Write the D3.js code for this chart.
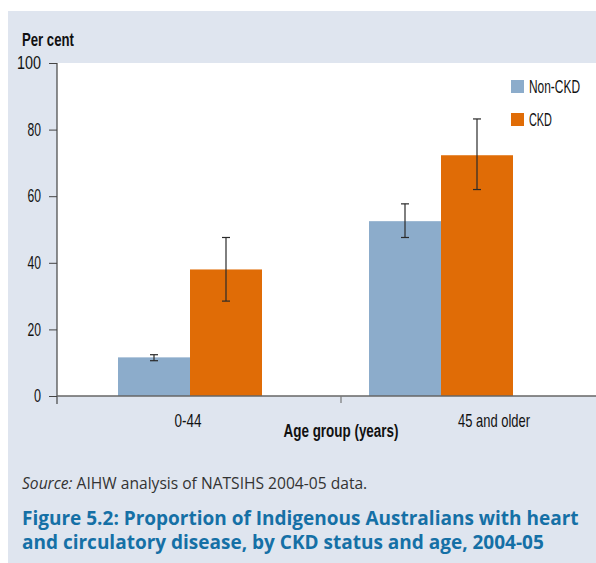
<!DOCTYPE html>
<html><head><meta charset="utf-8">
<script src="https://cdn.jsdelivr.net/npm/d3@7"></script>
<style>
html,body{margin:0;padding:0;background:#fff;}
svg{display:block;}
.cond{font-family:"Liberation Sans",Arial,sans-serif;}
</style></head>
<body>
<script>
const categories = ["0-44", "45 and older"];
const seriesNames = ["Non-CKD", "CKD"];
const nonCKD = [11.6, 52.5];
const nonCKDLow = [10.6, 47.6];
const nonCKDHigh = [12.4, 57.7];
const ckd = [38.0, 72.3];
const ckdLow = [28.5, 62.0];
const ckdHigh = [47.6, 83.2];
const yTicks = [0, 20, 40, 60, 80, 100];
const colors = ["#8caccb", "#e06c06"];

// widths that emulate the condensed typeface of the original
const condWidth = {"0": 7, "20": 13.5, "40": 13.5, "60": 13.5, "80": 13.5, "100": 24,
  "0-44": 27, "45 and older": 72, "Non-CKD": 51, "CKD": 23, "Age group (years)": 115, "Per cent": 52};
// squeeze a text horizontally around its anchor point
function condense(sel) {
  sel.each(function() {
    const el = d3.select(this);
    const t = el.text();
    if (condWidth[t] === undefined) return;
    const nat = this.getComputedTextLength();
    const sx = condWidth[t] / nat;
    const x = +el.attr("x") || 0, yy = +el.attr("y") || 0;
    const dy = el.attr("dy");
    el.attr("x", 0).attr("y", 0)
      .attr("transform", `translate(${x},${yy}) scale(${sx},1)`);
    if (dy) el.attr("dy", dy);
  });
}
const FS = 17.5;

const W = 596, H = 563;
const svg = d3.select("body").append("svg").attr("width", W).attr("height", H);

svg.append("rect").attr("x", 8).attr("y", 11).attr("width", W - 8).attr("height", H - 11).attr("fill", "#dfe5ef");

const plot = {left: 57, right: 596, top: 63, bottom: 396};
svg.append("rect").attr("x", plot.left).attr("y", plot.top)
  .attr("width", plot.right - plot.left).attr("height", plot.bottom - plot.top).attr("fill", "#fff");

const y = d3.scaleLinear().domain([0, 100]).range([plot.bottom, plot.top]);
const xBars = d3.scaleBand().domain(categories).range([64.5, 566.5]);
const xLabels = d3.scaleBand().domain(categories).range([35, 647]);
const groupW = 144;
const xSub = d3.scaleBand().domain(seriesNames).range([0, groupW]);

const data = categories.map((c, i) => ({
  cat: c,
  vals: [
    {s: seriesNames[0], v: nonCKD[i], lo: nonCKDLow[i], hi: nonCKDHigh[i], col: colors[0]},
    {s: seriesNames[1], v: ckd[i], lo: ckdLow[i], hi: ckdHigh[i], col: colors[1]}
  ]
}));

const g = svg.selectAll("g.grp").data(data).join("g").attr("class", "grp")
  .attr("transform", d => `translate(${xBars(d.cat) + xBars.bandwidth() / 2 - groupW / 2},0)`);

g.selectAll("rect").data(d => d.vals).join("rect")
  .attr("x", d => xSub(d.s)).attr("width", xSub.bandwidth())
  .attr("y", d => y(d.v)).attr("height", d => y(0) - y(d.v))
  .attr("fill", d => d.col);

const eb = g.selectAll("g.eb").data(d => d.vals).join("g").attr("class", "eb")
  .attr("transform", d => `translate(${xSub(d.s) + xSub.bandwidth() / 2},0)`)
  .attr("stroke", "#2a2a2a").attr("stroke-width", 1.2);
eb.append("line").attr("x1", 0).attr("x2", 0).attr("y1", d => y(d.hi)).attr("y2", d => y(d.lo));
eb.append("line").attr("x1", -4).attr("x2", 4).attr("y1", d => y(d.hi)).attr("y2", d => y(d.hi));
eb.append("line").attr("x1", -4).attr("x2", 4).attr("y1", d => y(d.lo)).attr("y2", d => y(d.lo));

// Y axis
const yAxis = d3.axisLeft(y).tickValues(yTicks).tickSize(8).tickPadding(8);
const ya = svg.append("g").attr("transform", `translate(${plot.left},0)`).call(yAxis);
ya.select(".domain").remove();
ya.selectAll(".tick line").attr("stroke", "#444");
ya.selectAll("text").attr("class", "cond").attr("font-size", FS).attr("fill", "#111").call(condense);
ya.append("line").attr("x1", 0).attr("x2", 0).attr("y1", plot.top).attr("y2", plot.bottom + 8)
  .attr("stroke", "#444").attr("stroke-width", 1.2);

// X axis
svg.append("line").attr("x1", plot.left).attr("x2", plot.right).attr("y1", plot.bottom).attr("y2", plot.bottom)
  .attr("stroke", "#666").attr("stroke-width", 1.5);
const boundary = xLabels(categories[1]);
svg.append("line").attr("x1", boundary).attr("x2", boundary).attr("y1", plot.bottom).attr("y2", plot.bottom + 7)
  .attr("stroke", "#777").attr("stroke-width", 1.2);
svg.selectAll("text.xl").data(categories).join("text").attr("class", "xl cond")
  .attr("x", d => xLabels(d) + xLabels.bandwidth() / 2).attr("y", 427)
  .attr("text-anchor", "middle").attr("font-size", FS).attr("fill", "#111").text(d => d).call(condense);

svg.append("text").attr("class", "cond").attr("x", boundary).attr("y", 437).attr("text-anchor", "middle")
  .attr("font-size", FS).attr("font-weight", "bold").attr("fill", "#111").text("Age group (years)").call(condense);

svg.append("text").attr("class", "cond").attr("x", 22).attr("y", 46)
  .attr("font-size", FS).attr("font-weight", "bold").attr("fill", "#111").text("Per cent").call(condense);

// Legend
const lg = svg.selectAll("g.lg").data(seriesNames).join("g").attr("class", "lg")
  .attr("transform", (d, i) => `translate(511,${80 + i * 33})`);
lg.append("rect").attr("width", 13).attr("height", 13).attr("fill", (d, i) => colors[i]);
lg.append("text").attr("class", "cond").attr("x", 18).attr("y", 13).attr("font-size", FS).attr("fill", "#111").text(d => d).call(condense);

// Source
const src = svg.append("text").attr("x", 22).attr("y", 489).attr("font-family", "'Open Sans', sans-serif")
  .attr("font-size", 15.6).attr("fill", "#333");
src.append("tspan").attr("font-style", "italic").text("Source:");
src.append("tspan").text(" AIHW analysis of NATSIHS 2004-05 data.");

// Title
const titleLines = ["Figure 5.2: Proportion of Indigenous Australians with heart",
  "and circulatory disease, by CKD status and age, 2004-05"];
svg.selectAll("text.title").data(titleLines).join("text").attr("class", "title")
  .attr("x", 22).attr("y", (d, i) => 525 + i * 24)
  .attr("font-family", "'Open Sans', sans-serif").attr("font-weight", "bold").attr("font-size", 19)
  .attr("fill", "#1570a6").text(d => d);
</script>
</body></html>
